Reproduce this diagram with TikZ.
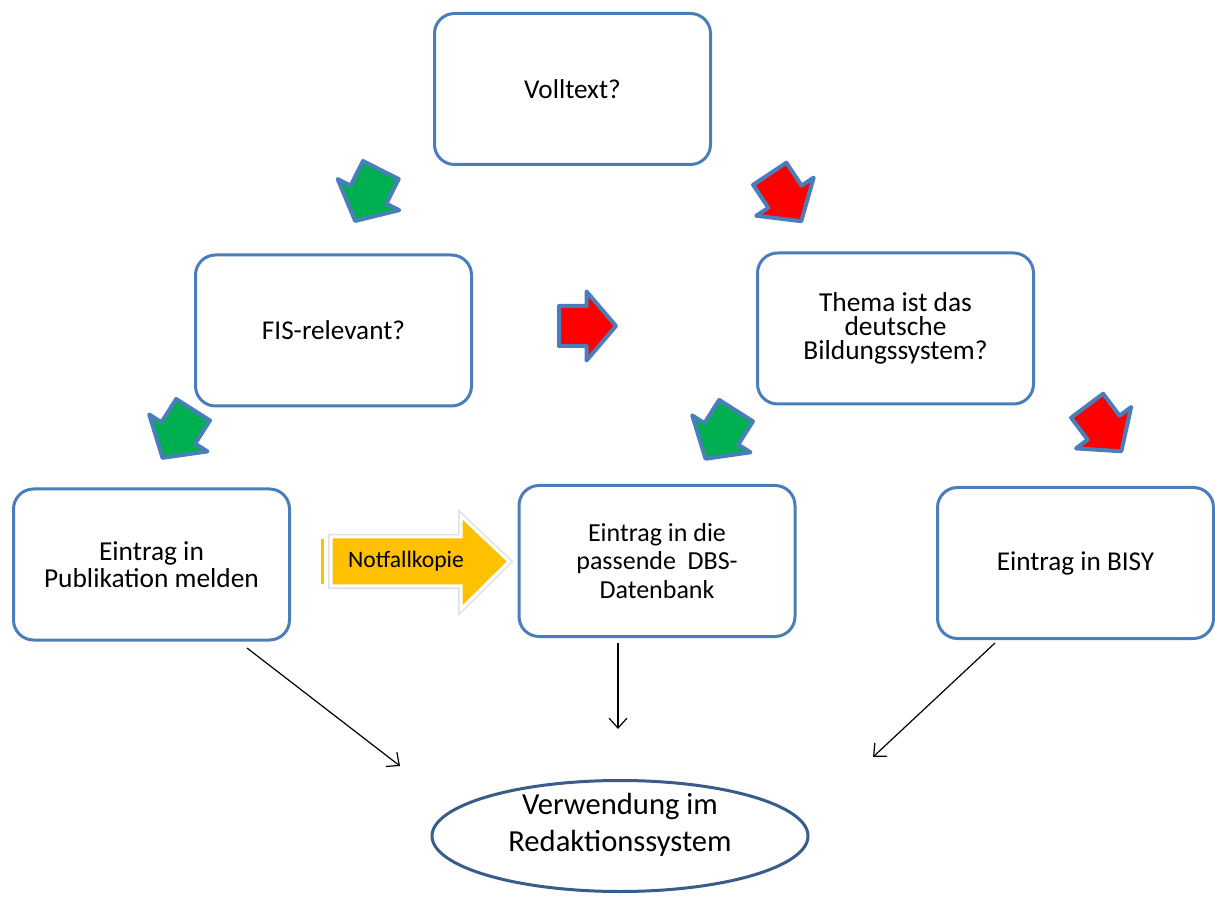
\documentclass[tikz,border=0pt]{standalone}
\usepackage{fontspec}
\setmainfont{Carlito}
\usetikzlibrary{arrows.meta,shapes.geometric}
\definecolor{boxblue}{HTML}{4A7EBB}
\definecolor{ellblue}{HTML}{385D8A}
\definecolor{okgreen}{HTML}{00B050}
\definecolor{nored}{HTML}{FF0000}
\definecolor{notgold}{HTML}{FFC000}
\tikzset{
  box/.style={draw=boxblue, line width=1.5pt, rounded corners=10pt, fill=white,
    minimum width=138pt, minimum height=75.5pt, align=center, inner sep=2pt,
    font=\fontsize{13.6}{14}\selectfont},
  endnode/.style={ellipse, draw=ellblue, line width=1.5pt, fill=white,
    minimum width=188pt, minimum height=55.5pt, inner sep=0pt},
  endtext/.style={align=center, inner sep=0pt, font=\fontsize{15.3}{18.5}\selectfont},
  barrowstyle/.style={draw=boxblue, line width=2pt, line join=round},
  conn/.style={draw=black, line width=0.6pt, -{Straight Barb[length=5pt,width=9pt]}},
}
\newcommand\blockarr[4]{%
  \path[barrowstyle, fill=#1, shift={(#2,#3)}, rotate=#4]
    (-28.5,-20) -- (-1,-20) -- (-1,-34.5) -- (28.5,0) -- (-1,34.5) -- (-1,20) -- (-28.5,20) -- cycle;}
\begin{document}
\begin{tikzpicture}[x=0.5pt, y=-0.5pt]
\useasboundingbox[fill=white] (0,0) rectangle (1215,897);

% boxes
\node[box] (voll) at (572.5,89) {Volltext?};
\node[box] (fis) at (333.5,330.5) {FIS-relevant?};
\node[box, font=\fontsize{13.7}{12}\selectfont] (thema) at (895.5,328.5) {Thema ist das\\deutsche\\Bildungssystem?};
\node[box, font=\fontsize{13.7}{13.8}\selectfont] (pub) at (151.5,564.5) {Eintrag in\\Publikation melden};
\node[box, font=\fontsize{13}{14.2}\selectfont] (dbs) at (657,561) {Eintrag in die\\passende\hspace{0.45em}DBS-\\Datenbank};
\node[box] (bisy) at (1075.5,563) {Eintrag in BISY};
\node[endnode] (red) at (620,836) {};
\node[endtext] (redtext) at (620,825) {Verwendung im\\Redaktionssystem};

% block arrows
\blockarr{okgreen}{368}{195.5}{-116.8}
\blockarr{nored}{785.5}{197.5}{-56.4}
\blockarr{nored}{587.5}{326}{0}
\blockarr{okgreen}{177.8}{433.8}{-122.4}
\blockarr{okgreen}{720.8}{434.7}{-122.4}
\blockarr{nored}{1104.2}{428.5}{-53.1}

% Notfallkopie arrow
\path[draw=black!12, line width=3pt]
  (331,537) -- (461,537) -- (461,516) -- (509,561.5) -- (461,609) -- (461,586) -- (331,586) -- cycle;
\path[fill=notgold, draw=white, line width=1.5pt]
  (331,537) -- (461,537) -- (461,516) -- (509,561.5) -- (461,609) -- (461,586) -- (331,586) -- cycle;
\path[fill=notgold, draw=white, line width=1pt] (320,538) rectangle (325,585);
\node[font=\fontsize{11.8}{13}\selectfont, inner sep=0pt] (notf) at (406,561) {Notfallkopie};

% connectors
\coordinate (c1s) at (247,648);
\coordinate (c1e) at (400,766);
\coordinate (c2s) at (618,643);
\coordinate (c2e) at (618,729);
\coordinate (c3s) at (995,643);
\coordinate (c3e) at (873,757);
\draw[conn] (c1s) -- (c1e);
\draw[conn] (c2s) -- (c2e);
\draw[conn] (c3s) -- (c3e);
\end{tikzpicture}
\end{document}
